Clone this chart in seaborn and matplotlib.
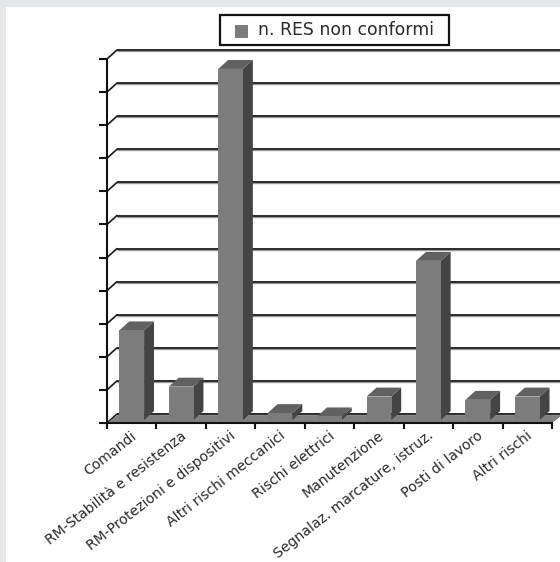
import matplotlib
matplotlib.use("Agg")
import matplotlib.pyplot as plt
from matplotlib.patches import Polygon, Rectangle
import pandas as pd
import seaborn as sns

categories = ["Comandi", "RM-Stabilità e resistenza", "RM-Protezioni e dispositivi",
              "Altri rischi meccanici", "Rischi elettrici", "Manutenzione",
              "Segnalaz. marcature, istruz.", "Posti di lavoro", "Altri rischi"]
values = [28, 11, 107, 3, 2, 8, 49, 7, 8]
series_name = "n. RES non conformi"
y_ticks = list(range(0, 111, 10))

W, H = 560, 562
DEPTH_X = 0.2      # extrusion in category units
DEPTH_Y = 2.7      # extrusion in value units
FOOT = 0.9         # bars stand slightly behind the front edge of the floor

sns.set_theme(style="white")
plt.rcParams["font.family"] = ["DejaVu Sans"]

fig = plt.figure(figsize=(W / 100, H / 100), dpi=100, facecolor="#e6e7e9")
fig.add_artist(Rectangle((6 / W, 0), 1, 1 - 7 / H, transform=fig.transFigure,
                         facecolor="white", edgecolor="none", zorder=-5))
ax = fig.add_axes([107 / W, 1 - 423 / H, 445 / W, 364 / H])
ax.patch.set_alpha(0)

df = pd.DataFrame({"categoria": categories, "valore": values})
sns.barplot(data=df, x="categoria", y="valore", color="#7c7c7c", saturation=1,
            width=0.5, ax=ax, zorder=4, linewidth=0, edgecolor="none")
ax.set_xlim(-0.5, 8.5)
ax.set_ylim(0, 110)
ax.set_xlabel("")
ax.set_ylabel("")
bars = list(ax.patches)

# back wall gridlines (with a soft grey underline) and the slanted connectors to the value axis
for t in y_ticks:
    ax.plot([-0.5 + DEPTH_X, 8.5 + DEPTH_X], [t + DEPTH_Y - 0.3] * 2, color="#9a9a9a",
            lw=1.0, clip_on=False, zorder=0.9, solid_capstyle="butt")
    ax.plot([-0.5 + DEPTH_X, 8.5 + DEPTH_X], [t + DEPTH_Y] * 2, color="#1a1a1a",
            lw=1.3, clip_on=False, zorder=1, solid_capstyle="butt")
    ax.plot([-0.5, -0.5 + DEPTH_X], [t, t + DEPTH_Y], color="#1a1a1a", lw=1.2,
            clip_on=False, zorder=1)

# floor of the chart
ax.add_patch(Polygon([(-0.5, 0), (8.5, 0), (8.5 + DEPTH_X, DEPTH_Y - 0.4), (-0.5 + DEPTH_X, DEPTH_Y - 0.4)],
                     closed=True, facecolor="#808080", edgecolor="none",
                     clip_on=False, zorder=2))

# side and top faces of each bar
for bar in bars:
    x0, x1 = bar.get_x(), bar.get_x() + bar.get_width()
    top = bar.get_height()
    ax.add_patch(Polygon([(x1, FOOT), (x1 + DEPTH_X, FOOT + DEPTH_Y),
                          (x1 + DEPTH_X, top + DEPTH_Y), (x1, top)],
                         closed=True, facecolor="#444444", edgecolor="none",
                         clip_on=False, zorder=3))
    ax.add_patch(Polygon([(x0, top), (x1, top), (x1 + DEPTH_X, top + DEPTH_Y),
                          (x0 + DEPTH_X, top + DEPTH_Y)],
                         closed=True, facecolor="#616161", edgecolor="none",
                         clip_on=False, zorder=3))

# axes: ticks sit on category boundaries, value labels are not shown
for side in ("top", "right"):
    ax.spines[side].set_visible(False)
for side in ("left", "bottom"):
    ax.spines[side].set_color("#111111")
    ax.spines[side].set_linewidth(1.5)
    ax.spines[side].set_zorder(6)
ax.set_yticks(y_ticks)
ax.set_yticklabels([])
ax.set_xticks([i - 0.5 for i in range(10)])
ax.set_xticklabels([])
ax.tick_params(axis="x", length=4, width=1.5, color="#111111", bottom=True)
ax.tick_params(axis="y", length=6, width=1.5, color="#111111", left=True)

for i, name in enumerate(categories):
    ax.annotate(name, xy=(i - 0.02, 0), xycoords=("data", "axes fraction"),
                xytext=(0, -4), textcoords="offset points", rotation=38,
                rotation_mode="anchor", ha="right", va="top",
                fontsize=10.1, color="#2a2a2a")

# legend box
fig.add_artist(Rectangle((220 / W, 1 - 45 / H), 229 / W, 30 / H, transform=fig.transFigure,
                         facecolor="white", edgecolor="#111111", linewidth=1.6))
fig.add_artist(Rectangle((235 / W, 1 - 38 / H), 13 / W, 13 / H, transform=fig.transFigure,
                         facecolor="#7c7c7c", edgecolor="none"))
fig.text(258 / W, 1 - 30 / H, series_name, fontsize=12.4, color="#2a2a2a", va="center", ha="left")

fig.savefig("out.png", dpi=100, facecolor=fig.get_facecolor())
